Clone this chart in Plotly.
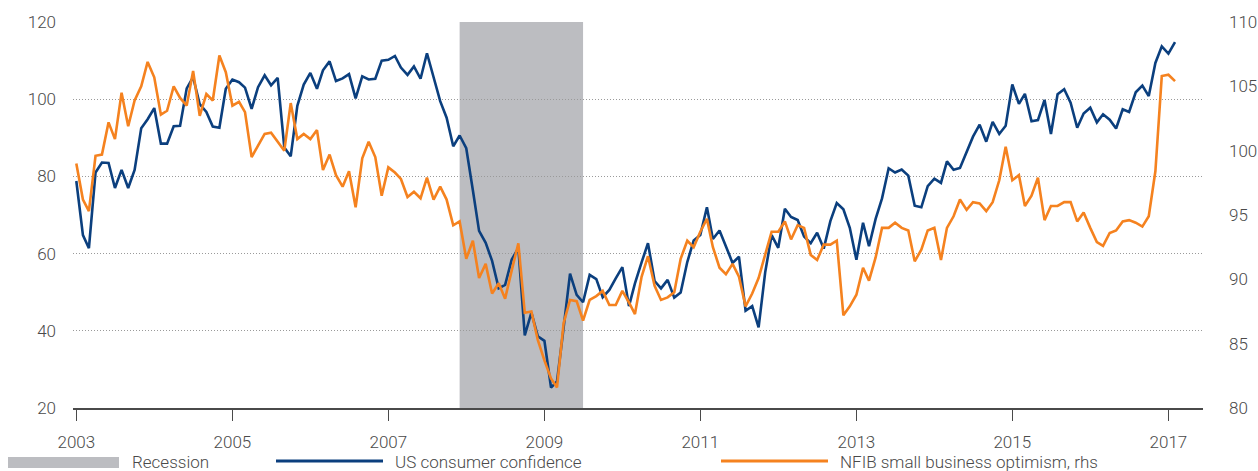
import pandas as pd
import plotly.graph_objects as go

# ---- data (monthly, Jan 2003 - Feb 2017) ----
start_month = "2003-01-01"
consumer_confidence = [
    78.8, 64.8, 61.4, 81.0, 83.6, 83.5, 77.0, 81.7, 77.0, 81.7, 92.5, 94.8,
    97.7, 88.5, 88.5, 93.0, 93.1, 102.8, 105.7, 98.7, 96.7, 92.9, 92.6, 102.7,
    105.1, 104.4, 103.0, 97.5, 103.1, 106.2, 103.6, 105.5, 87.5, 85.2, 98.3, 103.8,
    106.8, 102.7, 107.5, 109.8, 104.7, 105.4, 106.5, 100.2, 105.9, 105.1, 105.3, 110.0,
    110.2, 111.2, 108.2, 106.3, 108.5, 105.3, 111.9, 105.6, 99.5, 95.2, 87.8, 90.6,
    87.3, 76.4, 65.9, 62.8, 58.1, 51.0, 51.9, 58.5, 61.4, 38.8, 44.7, 38.6,
    37.4, 25.3, 26.9, 40.8, 54.8, 49.3, 47.4, 54.5, 53.4, 48.7, 50.6, 53.6,
    56.5, 46.4, 52.3, 57.7, 62.7, 52.9, 51.0, 53.2, 48.6, 49.9, 57.8, 63.4,
    64.8, 72.0, 63.8, 66.0, 61.7, 57.6, 59.2, 45.2, 46.4, 40.9, 55.2, 64.8,
    61.5, 71.6, 69.5, 68.7, 64.4, 62.7, 65.4, 61.3, 68.4, 73.1, 71.5, 66.7,
    58.4, 68.0, 61.9, 69.0, 74.3, 82.1, 81.0, 81.8, 80.2, 72.4, 72.0, 77.5,
    79.4, 78.3, 83.9, 81.7, 82.2, 86.4, 90.3, 93.4, 89.0, 94.1, 91.0, 93.1,
    103.8, 98.8, 101.4, 94.3, 94.6, 99.8, 91.0, 101.3, 102.6, 99.1, 92.6, 96.3,
    97.8, 94.0, 96.1, 94.7, 92.4, 97.4, 96.7, 101.8, 103.5, 100.8, 109.4, 113.7,
    111.8, 114.8,
]
nfib_optimism = [
    99.0, 96.2, 95.3, 99.6, 99.7, 102.2, 100.9, 104.5, 101.9, 103.9, 105.0, 106.9,
    105.7, 102.8, 103.1, 105.0, 104.1, 103.5, 106.2, 102.7, 104.4, 103.9, 107.4, 106.1,
    103.5, 103.8, 103.0, 99.5, 100.4, 101.3, 101.4, 100.7, 100.0, 103.7, 100.9, 101.3,
    100.9, 101.6, 98.5, 99.7, 98.1, 97.2, 98.4, 95.6, 99.4, 100.7, 99.5, 96.5,
    98.7, 98.3, 97.8, 96.4, 96.8, 96.3, 97.9, 96.2, 97.2, 96.2, 94.2, 94.5,
    91.6, 93.0, 90.1, 91.2, 88.9, 89.7, 88.5, 90.7, 92.8, 87.4, 87.5, 85.3,
    83.7, 82.3, 81.6, 86.6, 88.4, 88.3, 86.8, 88.4, 88.7, 89.1, 88.0, 88.0,
    89.1, 88.2, 87.3, 90.2, 91.8, 89.5, 88.4, 88.6, 89.0, 91.6, 93.0, 92.5,
    93.7, 94.7, 92.5, 90.9, 90.4, 91.2, 90.2, 87.9, 88.9, 90.1, 91.9, 93.7,
    93.7, 94.5, 93.1, 94.2, 94.0, 91.9, 91.5, 92.7, 92.7, 93.0, 87.2, 87.9,
    88.8, 90.9, 89.9, 91.7, 94.0, 94.0, 94.4, 94.0, 93.8, 91.4, 92.3, 93.8,
    94.0, 91.5, 94.0, 94.9, 96.2, 95.4, 96.0, 95.9, 95.3, 96.0, 97.7, 100.3,
    97.7, 98.1, 95.7, 96.5, 97.9, 94.6, 95.7, 95.7, 96.0, 96.0, 94.5, 95.2,
    94.0, 92.9, 92.6, 93.6, 93.8, 94.5, 94.6, 94.4, 94.1, 94.9, 98.4, 105.8,
    105.9, 105.4,
]
recession_start = "2007-12-01"
recession_end = "2009-07-01"
year_ticks = ["2003", "2005", "2007", "2009", "2011", "2013", "2015", "2017"]
left_ticks = [20, 40, 60, 80, 100, 120]
right_ticks = [80, 85, 90, 95, 100, 105, 110]
legend_labels = ["Recession", "US consumer confidence", "NFIB small business optimism, rhs"]

dates = pd.date_range(start=start_month, periods=len(consumer_confidence), freq="MS")

BLUE = "#0b3f7e"
ORANGE = "#f5821f"
GREY = "#bcbdc1"
TXT = "#4a4a4a"
FONT = "Roboto"

W, H = 1258, 471
ML, MR, MT, MB = 73, 55, 22, 63
PW, PH = W - ML - MR, H - MT - MB


def px_x(p):
    return (p - ML) / PW


def px_y(p):
    return (H - MB - p) / PH


fig = go.Figure()
fig.add_trace(go.Scatter(x=dates, y=consumer_confidence, mode="lines",
                         line=dict(color=BLUE, width=2.6), name=legend_labels[1],
                         yaxis="y", showlegend=False))
fig.add_trace(go.Scatter(x=dates, y=nfib_optimism, mode="lines",
                         line=dict(color=ORANGE, width=2.6), name=legend_labels[2],
                         yaxis="y2", showlegend=False))

fig.add_shape(type="rect", xref="x", yref="y", x0=recession_start, x1=recession_end,
              y0=left_ticks[0], y1=left_ticks[-1], fillcolor=GREY, line_width=0, layer="below")

# manual legend
fig.add_shape(type="rect", xref="paper", yref="paper", x0=px_x(8), x1=px_x(119),
              y0=px_y(468), y1=px_y(457), fillcolor=GREY, line_width=0)
fig.add_shape(type="line", xref="paper", yref="paper", x0=px_x(276), x1=px_x(383),
              y0=px_y(461), y1=px_y(461), line=dict(color=BLUE, width=3))
fig.add_shape(type="line", xref="paper", yref="paper", x0=px_x(721), x1=px_x(828),
              y0=px_y(461), y1=px_y(461), line=dict(color=ORANGE, width=3))
for lbl, xp in zip(legend_labels, [130, 393, 838]):
    fig.add_annotation(text=lbl, xref="paper", yref="paper", x=px_x(xp), y=px_y(462),
                       xanchor="left", yanchor="middle", showarrow=False,
                       font=dict(family=FONT, size=17, color=TXT, weight=300))

fig.update_layout(
    width=W, height=H,
    margin=dict(l=ML, r=MR, t=MT, b=MB, autoexpand=False),
    paper_bgcolor="white", plot_bgcolor="white",
    font=dict(family=FONT, size=17, color=TXT, weight=300),
    xaxis=dict(
        type="date",
        range=["2002-12-16 12:00", "2017-06-12"],
        tickvals=[f"{y}-01-01" for y in year_ticks], ticktext=year_ticks,
        showgrid=False, zeroline=False,
        showline=True, linecolor="#4a4a4a", linewidth=2,
        ticks="outside", ticklen=11, tickcolor="#4a4a4a", tickwidth=1.3,
        ticklabelstandoff=7,
    ),
    yaxis=dict(
        range=[left_ticks[0], left_ticks[-1]], tickvals=left_ticks,
        showgrid=True, gridcolor="#9a9a9a", griddash="1px,2px", gridwidth=1,
        zeroline=False, showline=False, ticks="", ticklabelstandoff=16,
    ),
    yaxis2=dict(
        range=[right_ticks[0], right_ticks[-1]], tickvals=right_ticks,
        overlaying="y", side="right", showgrid=False, zeroline=False,
        showline=False, ticks="", ticklabelstandoff=25,
    ),
)

fig.write_html(
    "out.html",
    config={"displayModeBar": False},
    post_script="document.body.style.margin='0';document.body.style.overflow='hidden';",
)
